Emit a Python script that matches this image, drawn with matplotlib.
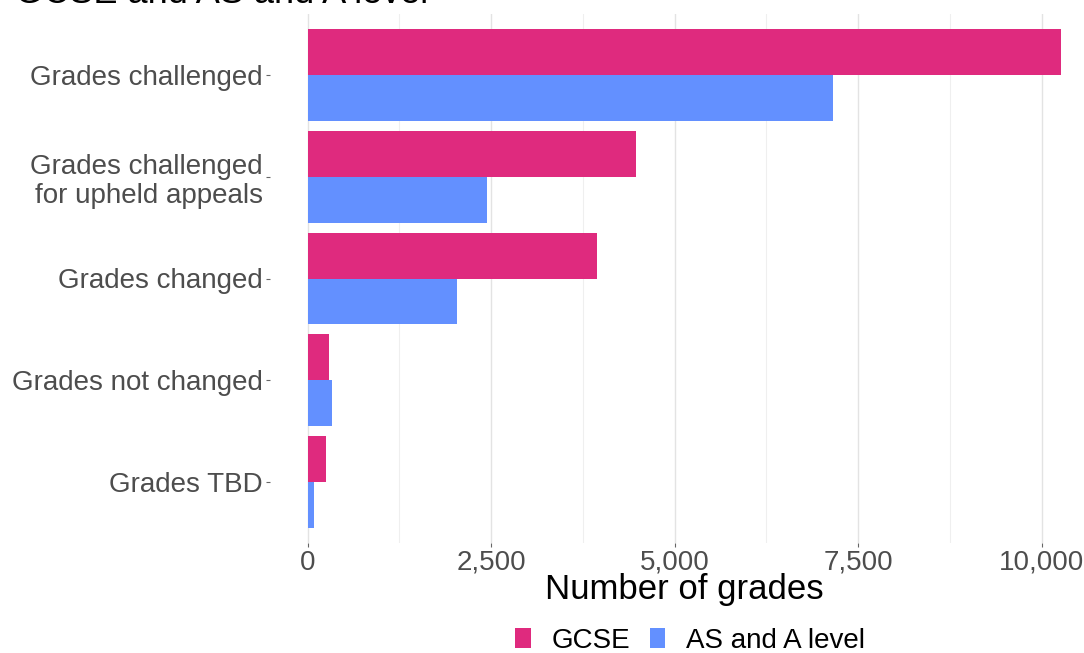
import numpy as np
import matplotlib.pyplot as plt

plt.rcParams['font.family'] = ['Liberation Sans', 'DejaVu Sans']

categories = ["Grades challenged", "Grades challenged\nfor upheld appeals",
              "Grades changed", "Grades not changed", "Grades TBD"]
gcse = [10270, 4475, 3945, 285, 245]
as_a_level = [7165, 2440, 2035, 325, 80]
series_names = ["GCSE", "AS and A level"]
ticks = [0, 2500, 5000, 7500, 10000]
minor_ticks = [1250, 3750, 6250, 8750]

pink = "#DF2A7E"
blue = "#6390FF"

fig = plt.figure(figsize=(10.84, 6.53), dpi=100)
# panel runs past the right edge, as in the reference
ax = fig.add_axes([270 / 1084, 110 / 653, 829 / 1084, 529 / 653])

y = np.arange(len(categories))
h = 0.45
ax.barh(y - h / 2, gcse, height=h, color=pink, label=series_names[0])
ax.barh(y + h / 2, as_a_level, height=h, color=blue, label=series_names[1])

ax.set_yticks(y)
ax.set_yticklabels(categories, fontsize=20, color="#4D4D4D", linespacing=1.15)
ax.set_xticks(ticks)
ax.set_xticklabels([f"{t:,}" for t in ticks], fontsize=20, color="#4D4D4D")
ax.set_xticks(minor_ticks, minor=True)
pad = max(gcse) * 0.05
ax.set_xlim(-pad, max(gcse) + pad)
ax.set_ylim(len(categories) - 0.4, -0.6)
ax.tick_params(axis="both", which="major", length=3, width=0.8, color="#666666", pad=2)
ax.tick_params(axis="x", which="minor", length=0)
ax.grid(axis="x", which="major", color="#E3E3E3", linewidth=1.0)
ax.grid(axis="x", which="minor", color="#EFEFEF", linewidth=0.8)
ax.set_axisbelow(True)
for s in ax.spines.values():
    s.set_visible(False)

fig.text(684 / 1084, 1 - 590 / 653, "Number of grades", fontsize=25, color="black",
         ha="center", va="center")

leg = fig.legend(loc="center", bbox_to_anchor=(690 / 1084, 1 - 641 / 653), ncol=2,
                 frameon=False, fontsize=20, handlelength=0.55, handleheight=0.75,
                 columnspacing=0.7, handletextpad=0.75)

fig.text(15 / 1084, 1 - 3 / 653, "GCSE and AS and A level", fontsize=26,
         va="baseline", ha="left")

fig.savefig("out.png", dpi=100)
